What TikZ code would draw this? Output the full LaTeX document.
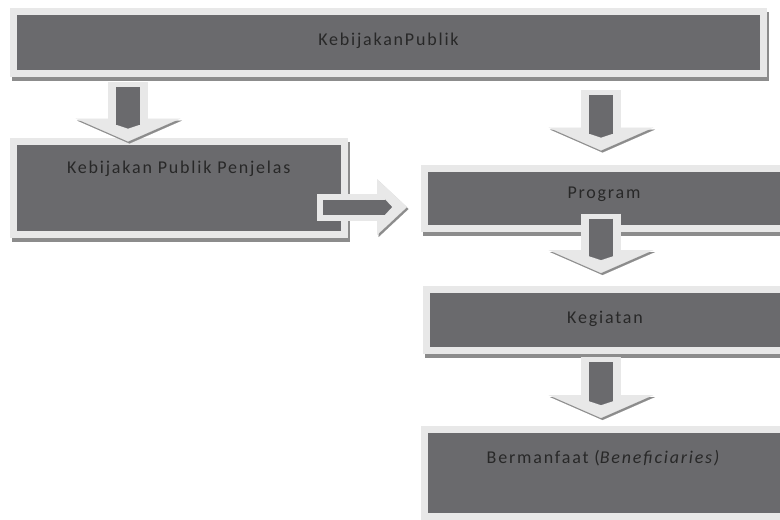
\documentclass[tikz,border=0pt]{standalone}
\usepackage{fontspec}
\newfontfamily\boxfont{Carlito}[LetterSpace=10]
\usetikzlibrary{arrows.meta,calc}
\definecolor{boxdark}{RGB}{106,106,109}
\definecolor{edgelight}{RGB}{232,232,232}
\definecolor{shadowgrey}{RGB}{140,140,140}
\definecolor{textdark}{RGB}{40,40,40}

\begin{document}
\begin{tikzpicture}[x=1pt, y=-1pt]
    \tikzstyle{box}=[rectangle, inner sep=0pt, outer sep=0pt, fill=boxdark, draw=edgelight, line width=7pt, text=textdark, font=\boxfont\fontsize{18}{21}\selectfont, preaction={draw=shadowgrey, fill=shadowgrey, transform canvas={xshift=2pt,yshift=-4pt}}]
    \tikzstyle{flow}=[draw=edgelight, line width=40pt, -{Triangle[length=23pt,width=105pt,line width'=0.1pt]}, preaction={draw=shadowgrey, transform canvas={xshift=1.5pt,yshift=-2pt}}]
    \tikzstyle{flow core}=[draw=boxdark, line width=24pt, shorten <=5pt, shorten >=13pt, -{Triangle[length=4pt,width=24pt,line width'=0.1pt]}]
    \tikzstyle{small flow}=[flow, line width=27pt, -{Triangle[length=30pt,width=56pt,line width'=0.1pt]}]
    \tikzstyle{small flow core}=[flow core, line width=15pt, shorten <=6pt, shorten >=15pt, -{Triangle[length=7pt,width=15pt,line width'=0.1pt]}]

    \useasboundingbox (0,0) rectangle (780,520);

    % Draw the boxes
    \node[box, minimum width=750pt, minimum height=61.5pt, text depth=6pt] (top) at (388.5,42.25) {KebijakanPublik};
    \node[box, minimum width=330.5pt, minimum height=92.5pt, text depth=41pt] (pjl) at (178.75,187.75) {Kebijakan Publik Penjelas};
    \node[box, minimum width=360pt, minimum height=60pt, text depth=11pt] (prog) at (604,198.5) {Program};
    \node[box, minimum width=358pt, minimum height=61pt, text depth=5pt] (keg) at (605,319.5) {Kegiatan};
    \node[box, minimum width=360pt, minimum height=87pt, text depth=32pt] (ben) at (604,472.5) {Bermanfaat (\textit{Beneficiaries)}};

    % Arrow end points, taken from the boxes
    \coordinate (s1) at ($(top.south -| 128,0)+(0,9)$);
    \coordinate (e1) at (pjl.north -| 128,0);
    \coordinate (s2) at ($(top.south -| 601,0)+(0,17)$);
    \coordinate (e2) at ($(prog.north -| 601,0)+(0,-18)$);
    \coordinate (s3) at ($(prog.south -| 601,0)+(0,-15)$);
    \coordinate (e3) at ($(keg.north -| 601,0)+(0,-16)$);
    \coordinate (s4) at ($(keg.south -| 601,0)+(0,7)$);
    \coordinate (e4) at ($(ben.north -| 601,0)+(0,-11)$);
    \coordinate (s5) at ($(pjl.east |- 0,207)+(-27,0)$);
    \coordinate (e5) at ($(prog.west |- 0,207)+(-17,0)$);

    % Connect the boxes with the block arrows
    \foreach \s/\e in {s1/e1,s2/e2,s3/e3,s4/e4}{
        \draw[flow] (\s) -- (\e);
        \draw[flow core] (\s) -- (\e);
    }
    \draw[small flow] (s5) -- (e5);
    \draw[small flow core] (s5) -- (e5);
\end{tikzpicture}
\end{document}
